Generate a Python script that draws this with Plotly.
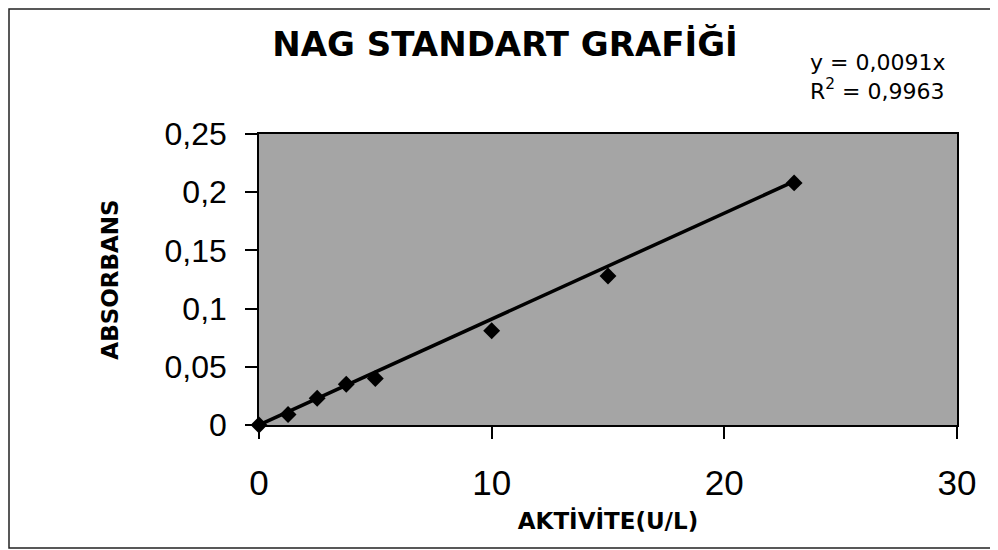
"""NAG standart grafiği: absorbans vs aktivite, with the linear trendline through origin."""
import plotly.graph_objects as go

# measured standards
aktivite = [0, 1.25, 2.5, 3.75, 5, 10, 15, 23]
absorbans = [0, 0.009, 0.023, 0.035, 0.040, 0.081, 0.128, 0.208]

# trendline y = 0,0091x drawn across the data range
trend_x = [0, 23]
trend_y = [0, 0.2093]

y_ticks = [0, 0.05, 0.1, 0.15, 0.2, 0.25]
y_labels = ["0", "0,05", "0,1", "0,15", "0,2", "0,25"]
x_ticks = [0, 10, 20, 30]
x_labels = ["0", "10", "20", "30"]

TITLE = "NAG STANDART GRAFİĞİ"
EQUATION = "y = 0,0091x<br>R<sup>2</sup> = 0,9963"

# the page body has an 8px margin, so the figure starts at page (8, 8)
OFF = 8
W, H = 998 - OFF, 550 - OFF
L, R, T, B = 259 - OFF, 41, 134 - OFF, 125
PW, PH = W - L - R, H - T - B


def px_to_paper(px, py):
    """page pixel -> paper coords"""
    return (px - OFF - L) / PW, (H - B - (py - OFF)) / PH


fig = go.Figure()
fig.add_trace(go.Scatter(x=trend_x, y=trend_y, mode="lines",
                         line=dict(color="black", width=3.5), cliponaxis=False,
                         hoverinfo="skip"))
fig.add_trace(go.Scatter(x=aktivite, y=absorbans, mode="markers",
                         marker=dict(symbol="diamond", size=13, color="black"),
                         cliponaxis=False))

# outer chart frame
x0, y0 = px_to_paper(9, 548)
x1, y1 = px_to_paper(995, 9)
fig.add_shape(type="rect", xref="paper", yref="paper", x0=x0, y0=y0, x1=x1, y1=y1,
              line=dict(color="#222", width=1.5), layer="below")

ex, ey = px_to_paper(808, 77)
fig.add_annotation(text=EQUATION, xref="paper", yref="paper", x=ex, y=ey,
                   xanchor="left", yanchor="middle", align="left", showarrow=False,
                   font=dict(family="DejaVu Sans", size=22, color="black"))

tx, _ = px_to_paper(505, 0)
fig.update_layout(
    width=W, height=H,
    margin=dict(l=L, r=R, t=T, b=B, autoexpand=False),
    paper_bgcolor="white", plot_bgcolor="#a5a5a5",
    showlegend=False,
    title=dict(text=f"<b>{TITLE}</b>", xref="paper", x=tx, xanchor="center",
               yref="container", y=1 - (44 - OFF) / H, yanchor="middle",
               font=dict(family="DejaVu Sans", size=34, color="black")),
    xaxis=dict(range=[0, 30], tickvals=x_ticks, ticktext=x_labels,
               ticks="outside", ticklen=12, tickwidth=1.5, tickcolor="black",
               ticklabelstandoff=14,
               tickfont=dict(family="Liberation Sans", size=35, color="black"),
               showgrid=False, zeroline=False,
               showline=True, linecolor="black", linewidth=2, mirror=True,
               title=dict(text="<b>AKTİVİTE(U/L)</b>", standoff=12,
                          font=dict(family="DejaVu Sans", size=23, color="black"))),
    yaxis=dict(range=[0, 0.25], tickvals=y_ticks, ticktext=y_labels,
               ticks="outside", ticklen=12, tickwidth=1.5, tickcolor="black",
               ticklabelstandoff=12,
               tickfont=dict(family="Liberation Sans", size=32, color="black"),
               showgrid=False, zeroline=False,
               showline=True, linecolor="black", linewidth=1.5, mirror=True,
               title=dict(text="<b>ABSORBANS</b>", standoff=40,
                          font=dict(family="DejaVu Sans", size=23, color="black"))),
)

fig.write_html("out.html")
